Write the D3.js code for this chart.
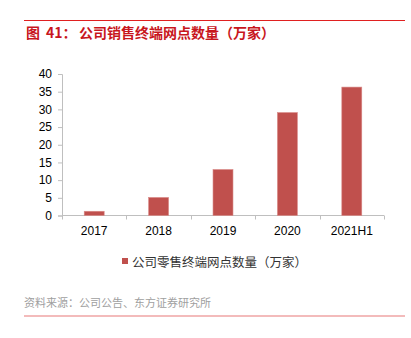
<!DOCTYPE html>
<html><head><meta charset="utf-8">
<script src="https://cdn.jsdelivr.net/npm/d3@7"></script>
<style>body{margin:0;background:#fff}svg{display:block}</style>
</head><body>
<svg id="c" width="411" height="338"></svg>
<script>
const categories = ["2017","2018","2019","2020","2021H1"];
const values = [1.2, 5.1, 13.0, 29.1, 36.3];
const yTicks = [0,5,10,15,20,25,30,35,40];
const titleParts = ["图", "41：", "公司销售终端网点数量（万家）"];
const legendLabel = "公司零售终端网点数量（万家）";
const source = "资料来源：公司公告、东方证券研究所";

const svg = d3.select("#c");
const x = d3.scaleBand().domain(categories).range([62, 384]).paddingInner(0.69).paddingOuter(0.345);
const y = d3.scaleLinear().domain([0, 40]).range([215.5, 74]);

// title
svg.append("line").attr("x1",24).attr("x2",405).attr("y1",20.5).attr("y2",20.5).attr("stroke","#e02020").attr("stroke-width",1.2);
const tt = svg.append("text").attr("y",38)
  .attr("font-family","'Noto Sans CJK SC', sans-serif").attr("font-weight","bold").attr("font-size",14).attr("fill","#c8161d");
const tx = [26, 46, 79];
titleParts.forEach((p,i)=>tt.append("tspan").attr("x",tx[i]).text(p));

const font = "'Liberation Sans', Arial, sans-serif";
// y axis
const yAxis = svg.append("g").attr("transform","translate(62,0)")
  .call(d3.axisLeft(y).tickValues(yTicks).tickSize(4).tickPadding(6));
yAxis.select(".domain").attr("stroke","#bfbfbf");
yAxis.selectAll(".tick line").attr("stroke","#bfbfbf");
yAxis.selectAll("text").attr("font-family",font).attr("font-size",12).attr("fill","#000");

// x axis
const bandBounds = categories.map(c => x(c) - x.step()*x.paddingInner()/2);
bandBounds.push(384);
const xg = svg.append("g");
xg.append("line").attr("x1",62).attr("x2",384).attr("y1",215.5).attr("y2",215.5).attr("stroke","#bfbfbf");
xg.selectAll("line.t").data(bandBounds).enter().append("line").attr("class","t")
  .attr("x1",d=>Math.round(d)+0.5).attr("x2",d=>Math.round(d)+0.5).attr("y1",215.5).attr("y2",219.5).attr("stroke","#bfbfbf");
xg.selectAll("text").data(categories).enter().append("text")
  .attr("x",d=>x(d)+x.bandwidth()/2).attr("y",235).attr("text-anchor","middle")
  .attr("font-family",font).attr("font-size",12).attr("fill","#000").text(d=>d);

// bars
svg.selectAll("rect.bar").data(values).enter().append("rect").attr("class","bar")
  .attr("x",(d,i)=>x(categories[i])).attr("width",x.bandwidth())
  .attr("y",d=>y(d)).attr("height",d=>y(0)-y(d))
  .attr("fill","#c0504d").attr("stroke","#d98a88").attr("stroke-width",0.6);

// legend
svg.append("rect").attr("x",122).attr("y",258).attr("width",6).attr("height",6).attr("fill","#c0504d");
svg.append("text").attr("x",132).attr("y",266.5).text(legendLabel)
  .attr("font-family","'Noto Sans CJK SC', sans-serif").attr("font-size",12.5).attr("fill","#333");

// source
svg.append("text").attr("x",24).attr("y",307).text(source)
  .attr("font-family","'Noto Sans CJK SC', sans-serif").attr("font-size",11).attr("fill","#a0a0a0");
svg.append("line").attr("x1",24).attr("x2",405).attr("y1",316).attr("y2",316).attr("stroke","#e87878").attr("stroke-width",1.2);
</script>
</body></html>
